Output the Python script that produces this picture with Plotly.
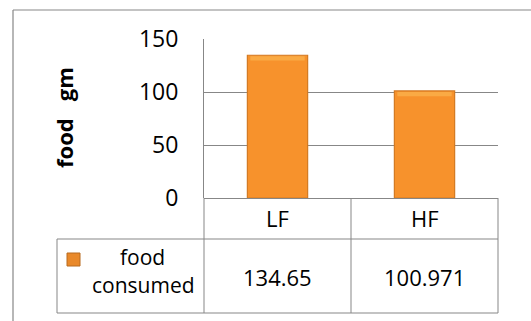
import plotly.graph_objects as go

# Food intake per diet group
categories = ["LF", "HF"]
food_consumed = [134.65, 100.971]
series_name = "food consumed"
y_title = "food\u00a0\u00a0\u00a0gm"
y_ticks = [0, 50, 100, 150]

W, H = 531, 321
FONT = "Open Sans"
GRID = "#878787"
BAR_FILL = "#F7922C"
BAR_EDGE = "#D37A22"


def px(x):
    return x / W


def py(y):
    return 1 - y / H


fig = go.Figure()
fig.add_trace(go.Bar(
    x=categories, y=food_consumed, width=0.41, name=series_name,
    marker=dict(color=BAR_FILL, line=dict(color=BAR_EDGE, width=1.2)),
    showlegend=False, hoverinfo="skip",
))

# lighter bevel along the top of each bar
fig.add_trace(go.Bar(
    x=categories, y=[4] * len(categories), base=[v - 5 for v in food_consumed],
    width=0.37, marker=dict(color="#FDBA55", line=dict(width=0)),
    showlegend=False, hoverinfo="skip", opacity=0.6,
))

line = dict(color=GRID, width=1)
shapes = [
    # chart frame
    dict(type="line", xref="paper", yref="paper", x0=px(13), x1=px(13), y0=py(10), y1=0, line=dict(color=GRID, width=1.2)),
    dict(type="line", xref="paper", yref="paper", x0=px(13), x1=1, y0=py(10), y1=py(10), line=dict(color=GRID, width=1.2)),
    # data table grid
    dict(type="line", xref="paper", yref="paper", x0=px(204), x1=px(204), y0=py(198), y1=py(313), line=line),
    dict(type="line", xref="x", yref="paper", x0=0.5, x1=0.5, y0=py(198), y1=py(313), line=line),
    dict(type="line", xref="paper", yref="paper", x0=px(498), x1=px(498), y0=py(198), y1=py(313), line=line),
    dict(type="line", xref="paper", yref="paper", x0=px(57), x1=px(57), y0=py(239), y1=py(313), line=line),
    dict(type="line", xref="paper", yref="paper", x0=px(57), x1=px(498), y0=py(239), y1=py(239), line=line),
    dict(type="line", xref="paper", yref="paper", x0=px(57), x1=px(498), y0=py(313), y1=py(313), line=line),
    # legend key
    dict(type="rect", xref="paper", yref="paper", x0=px(67), x1=px(80), y0=py(253), y1=py(266),
         fillcolor="#E9892A", line=dict(color="#B86A1E", width=1)),
]

txt = dict(family=FONT, size=22, color="#000000")
key_txt = dict(family=FONT, size=21, color="#000000")
annotations = [
    dict(text=y_title, textangle=-90, xref="paper", yref="paper", x=px(64), y=py(118),
         showarrow=False, font=dict(family=FONT, size=22, color="#000000", weight="bold"),
         xanchor="center", yanchor="middle"),
    dict(text="food", xref="paper", yref="paper", x=px(142), y=py(257), showarrow=False,
         font=key_txt, xanchor="center", yanchor="middle"),
    dict(text="consumed", xref="paper", yref="paper", x=px(143), y=py(285), showarrow=False,
         font=key_txt, xanchor="center", yanchor="middle"),
]
for cat, val in zip(categories, food_consumed):
    annotations.append(dict(text=cat, xref="x", yref="paper", x=cat, y=py(218), showarrow=False,
                            font=txt, xanchor="center", yanchor="middle"))
    annotations.append(dict(text=str(val), xref="x", yref="paper", x=cat, y=py(277), showarrow=False,
                            font=txt, xanchor="center", yanchor="middle"))

fig.update_layout(
    width=W, height=H, autosize=False,
    margin=dict(l=0, r=0, t=0, b=0, pad=0, autoexpand=False),
    paper_bgcolor="white", plot_bgcolor="white",
    barmode="overlay",
    shapes=shapes, annotations=annotations,
    xaxis=dict(domain=[px(204), px(498)], range=[-0.5, 1.5], showticklabels=False,
               showgrid=False, zeroline=False, showline=False, fixedrange=True, automargin=False),
    yaxis=dict(domain=[py(198), py(39)], range=[0, 150], tickvals=y_ticks,
               showgrid=True, gridcolor=GRID, gridwidth=1,
               zeroline=True, zerolinecolor=GRID, zerolinewidth=1,
               showline=True, linecolor=GRID, linewidth=1, automargin=False,
               ticks="", ticklabelstandoff=20, tickfont=dict(family=FONT, size=23, color="#000000"),
               fixedrange=True),
    font=dict(family=FONT, color="#000000"),
)

fig.write_html("out.html", config={"displayModeBar": False})
